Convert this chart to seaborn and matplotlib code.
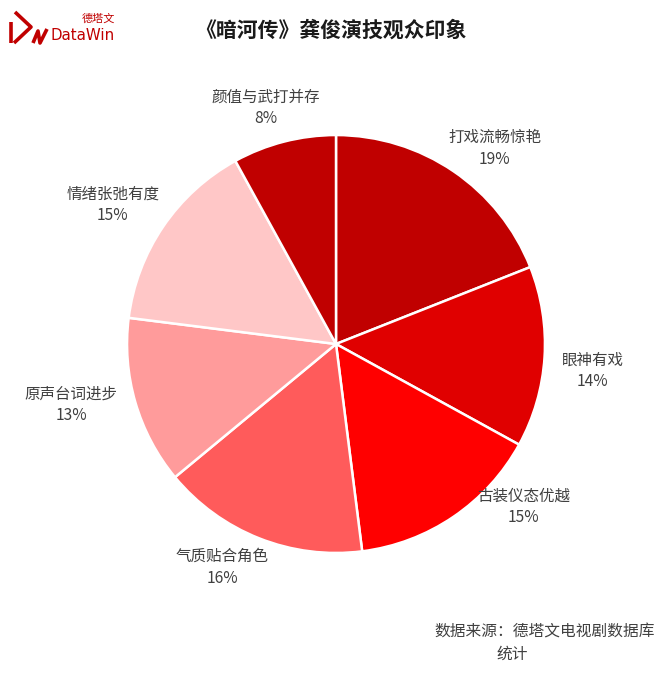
import matplotlib
matplotlib.use('Agg')
import numpy as np
import matplotlib.pyplot as plt
from matplotlib.lines import Line2D
import seaborn as sns

# data, clockwise from 12 o'clock
categories = ['打戏流畅惊艳', '眼神有戏', '古装仪态优越', '气质贴合角色',
              '原声台词进步', '情绪张弛有度', '颜值与武打并存']
shares = [19, 14, 15, 16, 13, 15, 8]
colors = ['#C00000', '#E00000', '#FF0000', '#FF5B5B', '#FF9B9B', '#FFC7C7', '#C00000']

# label placement (radius in pie radii, angle in degrees) - like Excel best fit
label_r = [1.205, 1.235, 1.19, 1.20, 1.30, 1.26, 1.18]
label_ang = [51, -6, -41, -117, -167, 148, 106.5]

sns.set_theme(style='white')
plt.rcParams['font.family'] = ['Noto Sans CJK SC', 'DejaVu Sans']

W, H = 669, 676
fig = plt.figure(figsize=(W / 100, H / 100), dpi=100)
ax = fig.add_axes([126 / W, 122 / H, 420 / W, 420 / H])

wedges, _ = ax.pie(shares, colors=colors, startangle=90, counterclock=False,
                   wedgeprops={'edgecolor': 'white', 'linewidth': 1.8})
for c, s, r, a in zip(categories, shares, label_r, label_ang):
    ax.text(r * np.cos(np.radians(a)), r * np.sin(np.radians(a)),
            c + '\n' + str(s) + '%', ha='center', va='center', fontsize=11.2,
            color='#404040', linespacing=1.35)
ax.set_xlim(-1.005, 1.005)
ax.set_ylim(-1.005, 1.005)
ax.set_aspect('equal')

# title
fig.text(331 / W, 1 - 30 / H, '《暗河传》龚俊演技观众印象', ha='center', va='center',
         fontsize=15, fontweight='bold', color='#1a1a1a')

# logo mark, drawn as strokes (pixel coords from top-left)
logo = [[(15, 12), (31, 27), (14, 43)],
        [(11, 22), (11, 43)],
        [(33, 43), (38, 31), (40, 43), (47, 29)]]
for pts in logo:
    xs = [p[0] / W for p in pts]
    ys = [1 - p[1] / H for p in pts]
    fig.add_artist(Line2D(xs, ys, color='#C00000', linewidth=2.6,
                          solid_capstyle='butt', transform=fig.transFigure))
fig.text(50 / W, 1 - 36 / H, 'DataWin', ha='left', va='center', fontsize=10.8,
         color='#C00000', family=['DejaVu Sans'])
fig.text(98 / W, 1 - 19 / H, '德塔文', ha='center', va='center', fontsize=8,
         color='#C00000')

# footer
fig.text(655 / W, 1 - 632 / H, '数据来源：德塔文电视剧数据库', ha='right', va='center',
         fontsize=11.3, color='#404040')
fig.text(496 / W, 1 - 654 / H, '统计', ha='left', va='center', fontsize=11.3,
         color='#404040')

fig.savefig('out.png', dpi=100, facecolor='white')
plt.close('all')
